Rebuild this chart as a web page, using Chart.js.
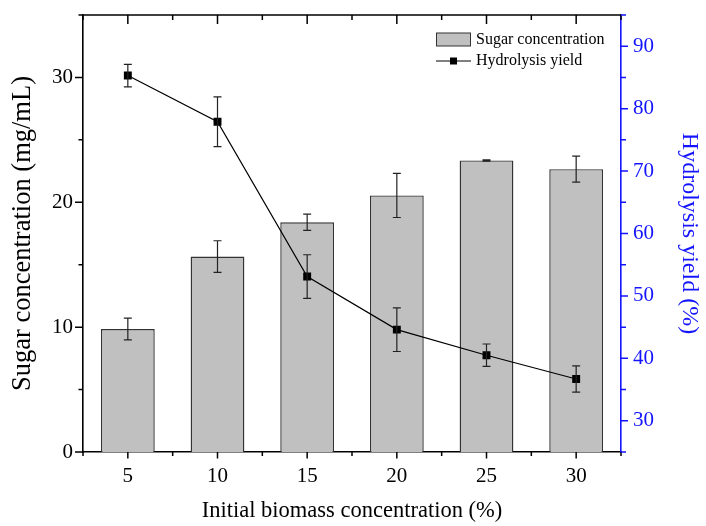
<!DOCTYPE html>
<html>
<head>
<meta charset="utf-8">
<script src="https://cdn.jsdelivr.net/npm/chart.js@4.4.0/dist/chart.umd.min.js"></script>
<style>
  html, body { margin: 0; padding: 0; background: #fff; }
  #wrap { width: 706px; height: 526px; }
</style>
</head>
<body>
<div id="wrap"><canvas id="chart" width="706" height="526"></canvas></div>
<script>
// Initial biomass concentration (%)
const categories = ['5', '10', '15', '20', '25', '30'];
// Sugar concentration (mg/mL), bars on the left axis
const sugarConc = [9.85, 15.65, 18.4, 20.55, 23.35, 22.65];
const sugarErr = [0.87, 1.27, 0.65, 1.77, 0.05, 1.04];
// Hydrolysis yield (%), line on the right axis
const hydroYield = [85.3, 77.9, 53.1, 44.6, 40.5, 36.7];
const yieldErr = [1.8, 4.0, 3.5, 3.5, 1.8, 2.1];

const SERIF = "'Liberation Serif', 'Times New Roman', serif";
const BLUE = '#1414ff';

// draws error bars for each dataset using its own y scale
const errorBars = {
    id: 'errorBars',
    afterDatasetDraw(chart, args) {
        const ds = chart.data.datasets[args.index];
        if (!ds.errors) return;
        const meta = args.meta;
        const yScale = chart.scales[meta.yAxisID];
        const ctx = chart.ctx;
        ctx.save();
        ctx.strokeStyle = '#222';
        ctx.lineWidth = 1.2;
        meta.data.forEach((el, i) => {
            const v = ds.data[i], e = ds.errors[i];
            const top = yScale.getPixelForValue(v + e);
            const bot = yScale.getPixelForValue(v - e);
            ctx.beginPath();
            ctx.moveTo(el.x, top); ctx.lineTo(el.x, bot);
            ctx.moveTo(el.x - 4, top); ctx.lineTo(el.x + 4, top);
            ctx.moveTo(el.x - 4, bot); ctx.lineTo(el.x + 4, bot);
            ctx.stroke();
        });
        ctx.restore();
    }
};

// major / minor tick marks in the Origin style, plus the top frame line
const tickMarks = {
    id: 'tickMarks',
    afterDraw(chart) {
        const ctx = chart.ctx, area = chart.chartArea;
        const xs = chart.scales.x, yl = chart.scales.y, yr = chart.scales.y1;
        const seg = (x1, y1, x2, y2) => { ctx.moveTo(x1, y1); ctx.lineTo(x2, y2); };
        ctx.save();
        ctx.lineWidth = 1.5;

        ctx.strokeStyle = '#000';
        ctx.beginPath();
        seg(area.left - 3, area.top, area.right, area.top);
        yl.ticks.forEach(t => {
            const p = yl.getPixelForValue(t.value);
            const len = t.value % 10 === 0 ? 8 : 4.5;
            seg(area.left - len, p, area.left, p);
        });
        xs.ticks.forEach((t, i) => {
            const p = xs.getPixelForTick(i);
            seg(p, area.bottom, p, area.bottom + 6.5);
            seg(p, area.top, p, area.top + 9);
        });
        for (let i = 0; i <= categories.length; i++) {
            const p = xs.getPixelForValue(i - 0.5);
            seg(p, area.bottom, p, area.bottom + 4);
            seg(p, area.top, p, area.top + 5);
        }
        ctx.stroke();

        ctx.strokeStyle = BLUE;
        ctx.beginPath();
        yr.ticks.forEach(t => {
            const p = yr.getPixelForValue(t.value);
            const len = t.value % 10 === 0 ? 7 : 5;
            seg(area.right, p, area.right + len, p);
        });
        ctx.stroke();
        ctx.restore();
    }
};

// legend box in the upper right corner of the plot
const innerLegend = {
    id: 'innerLegend',
    afterDraw(chart) {
        const ctx = chart.ctx, area = chart.chartArea;
        const bars = chart.data.datasets[0], line = chart.data.datasets[1];
        const x0 = area.right - 185, y0 = area.top + 24.5, y1 = area.top + 46;
        ctx.save();
        ctx.fillStyle = bars.backgroundColor;
        ctx.strokeStyle = bars.borderColor;
        ctx.lineWidth = 1;
        ctx.fillRect(x0, y0 - 6.5, 35, 13);
        ctx.strokeRect(x0 + 0.5, y0 - 6.5, 34, 13);

        ctx.strokeStyle = '#000';
        ctx.beginPath();
        ctx.moveTo(x0, y1); ctx.lineTo(x0 + 35, y1);
        ctx.stroke();
        ctx.fillStyle = '#000';
        ctx.fillRect(x0 + 14, y1 - 3.5, 7, 7);

        ctx.font = '16px ' + SERIF;
        ctx.textBaseline = 'middle';
        ctx.fillText(bars.label, x0 + 40, y0);
        ctx.fillText(line.label, x0 + 40, y1);
        ctx.restore();
    }
};

// vertical axes: no extra room for half tick labels, the plot box is fixed
function fixVertical(width) {
    return scale => {
        scale.width = width;
        scale.paddingTop = 0;
        scale.paddingBottom = 0;
    };
}

new Chart(document.getElementById('chart'), {
    data: {
        labels: categories,
        datasets: [
            {
                type: 'bar',
                label: 'Sugar concentration',
                data: sugarConc,
                errors: sugarErr,
                yAxisID: 'y',
                backgroundColor: '#c0c0c0',
                borderColor: '#333',
                borderWidth: 1.4,
                categoryPercentage: 0.6,
                barPercentage: 1.0,
                order: 1
            },
            {
                type: 'line',
                label: 'Hydrolysis yield',
                data: hydroYield,
                errors: yieldErr,
                yAxisID: 'y1',
                borderColor: '#000',
                borderWidth: 1.2,
                backgroundColor: '#000',
                pointStyle: 'rect',
                pointRadius: 5.6,
                pointBorderWidth: 0,
                tension: 0,
                order: 0
            }
        ]
    },
    options: {
        responsive: false,
        animation: false,
        devicePixelRatio: 1,
        layout: { padding: { top: 15, left: 0, right: 0, bottom: 0 } },
        plugins: {
            legend: { display: false },
            tooltip: { enabled: false }
        },
        scales: {
            x: {
                type: 'category',
                offset: true,
                grid: { display: false, drawTicks: false },
                border: { display: true, color: '#000', width: 1.6 },
                ticks: { color: '#000', padding: 12, font: { family: SERIF, size: 21 } },
                title: {
                    display: true,
                    text: 'Initial biomass concentration (%)',
                    color: '#000',
                    font: { family: SERIF, size: 22.5 },
                    padding: { top: 0, bottom: 1 }
                },
                afterFit(scale) {
                    scale.height = 74;
                    scale.paddingLeft = 0;
                    scale.paddingRight = 0;
                }
            },
            y: {
                position: 'left',
                min: 0,
                max: 35,
                grid: { display: false, drawTicks: false },
                border: { display: true, color: '#000', width: 1.6 },
                ticks: {
                    stepSize: 5,
                    padding: 10,
                    color: '#000',
                    font: { family: SERIF, size: 21 },
                    callback: v => (v % 10 === 0 ? v : '')
                },
                title: {
                    display: true,
                    text: 'Sugar concentration (mg/mL)',
                    color: '#000',
                    font: { family: SERIF, size: 26.5 },
                    padding: { top: 7, bottom: 0 }
                },
                afterFit: fixVertical(83)
            },
            y1: {
                position: 'right',
                min: 25,
                max: 95,
                grid: { display: false, drawTicks: false },
                border: { display: true, color: BLUE, width: 1.6 },
                ticks: {
                    stepSize: 5,
                    padding: 12,
                    color: BLUE,
                    font: { family: SERIF, size: 21 },
                    callback: v => (v % 10 === 0 ? v : '')
                },
                title: {
                    display: true,
                    text: 'Hydrolysis yield (%)',
                    color: BLUE,
                    font: { family: SERIF, size: 24 },
                    padding: { top: 2, bottom: 0 }
                },
                afterFit: fixVertical(85)
            }
        }
    },
    plugins: [errorBars, tickMarks, innerLegend]
});
</script>
</body>
</html>
